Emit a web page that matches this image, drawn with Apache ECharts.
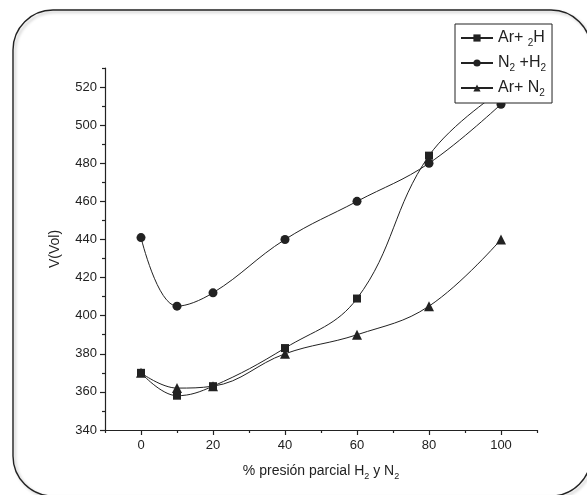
<!DOCTYPE html>
<html>
<head>
<meta charset="utf-8">
<script src="https://cdn.jsdelivr.net/npm/echarts@6/dist/echarts.min.js"></script>
<style>
html,body{margin:0;padding:0;background:#fff;}
#chart{width:587px;height:495px;}
</style>
</head>
<body>
<div id="chart"></div>
<script>
var xValues = [0, 10, 20, 40, 60, 80, 100];
var arH2 = [370, 358, 363, 383, 409, 484, 518];
var n2H2 = [441, 405, 412, 440, 460, 480, 511];
var arN2 = [370, 362, 363, 380, 390, 405, 440];
var seriesNames = ['Ar+ 2H', 'N2 +H2', 'Ar+ N2'];
var legendLabels = ['Ar+ {sub|2}H', 'N{sub|2} +H{sub|2}', 'Ar+ N{sub|2}'];
var xMajorTicks = [0, 20, 40, 60, 80, 100];
var xMinorTicks = [-10, 10, 30, 50, 70, 90, 110];
var yMajorTicks = [340, 360, 380, 400, 420, 440, 460, 480, 500, 520];
var yMinorTicks = [350, 370, 390, 410, 430, 450, 470, 490, 510, 530];

function pairs(vals) { return xValues.map(function (x, i) { return [x, vals[i]]; }); }

var FONT = '"Liberation Sans", Arial, sans-serif';
var INK = '#222';
var chart = echarts.init(document.getElementById('chart'), null, {renderer: 'canvas'});

var gridPos = {left: 105, right: 50, top: 68, bottom: 65};
var xBase = {type: 'value', min: -10, max: 110, gridIndex: 0};
var yBase = {type: 'value', min: 340, max: 530, gridIndex: 0};

function mkSeries(name, vals, symbol, size) {
  return {
    name: name, type: 'line', data: pairs(vals), smooth: 0.4,
    symbol: symbol, symbolSize: size,
    lineStyle: {color: INK, width: 1},
    itemStyle: {color: INK},
    xAxisIndex: 0, yAxisIndex: 0, z: 2
  };
}

var option = {
  backgroundColor: '#fff',
  animation: false,
  grid: gridPos,
  graphic: [{
    type: 'rect', z: -10,
    shape: {x: 13, y: 10, width: 578, height: 486, r: 40},
    style: {fill: 'none', stroke: INK, lineWidth: 1.4, shadowColor: 'rgba(0,0,0,0.25)', shadowBlur: 3, shadowOffsetX: 2, shadowOffsetY: 2}
  }],
  legend: {
    orient: 'vertical', left: 455, top: 24,
    data: seriesNames,
    itemWidth: 32, itemHeight: 9, itemGap: 7,
    padding: [6, 6, 5, 5],
    borderColor: INK, borderWidth: 1, backgroundColor: '#fff',
    z: 10,
    formatter: function (name) { return legendLabels[seriesNames.indexOf(name)]; },
    textStyle: {
      fontFamily: FONT, fontSize: 16, color: INK,
      rich: {sub: {fontFamily: FONT, fontSize: 10, color: INK, verticalAlign: 'bottom', padding: [10, 0, 0, 0]}}
    }
  },
  xAxis: [
    Object.assign({}, xBase, {
      position: 'bottom',
      name: '% presión parcial H{sub|2} y N{sub|2}',
      nameLocation: 'middle', nameGap: 32,
      nameTextStyle: {fontFamily: FONT, fontSize: 14, color: INK,
        rich: {sub: {fontFamily: FONT, fontSize: 9, color: INK, padding: [10, 0, 0, 0]}}},
      axisLine: {show: true, onZero: false, lineStyle: {color: INK, width: 1.2}},
      axisTick: {show: true, inside: false, length: 5, customValues: xMajorTicks, lineStyle: {color: INK, width: 1.2}},
      axisLabel: {customValues: xMajorTicks, margin: 9, fontFamily: FONT, fontSize: 13, color: INK},
      splitLine: {show: false}
    }),
    Object.assign({}, xBase, {
      position: 'bottom',
      axisLine: {show: false, onZero: false},
      axisTick: {show: true, inside: false, length: 3, customValues: xMinorTicks, lineStyle: {color: INK, width: 1.2}},
      axisLabel: {show: false},
      splitLine: {show: false}
    })
  ],
  yAxis: [
    Object.assign({}, yBase, {
      position: 'left',
      name: 'V(Vol)', nameLocation: 'middle', nameGap: 43, nameRotate: 90,
      nameTextStyle: {fontFamily: FONT, fontSize: 14, color: INK},
      axisLine: {show: true, onZero: false, lineStyle: {color: INK, width: 1.2}},
      axisTick: {show: true, inside: false, length: 5, customValues: yMajorTicks, lineStyle: {color: INK, width: 1.2}},
      axisLabel: {customValues: yMajorTicks, margin: 8, fontFamily: FONT, fontSize: 13, color: INK},
      splitLine: {show: false}
    }),
    Object.assign({}, yBase, {
      position: 'left',
      axisLine: {show: false, onZero: false},
      axisTick: {show: true, inside: false, length: 3, customValues: yMinorTicks, lineStyle: {color: INK, width: 1.2}},
      axisLabel: {show: false},
      splitLine: {show: false}
    })
  ],
  series: [
    mkSeries(seriesNames[0], arH2, 'rect', 8),
    mkSeries(seriesNames[1], n2H2, 'circle', 9),
    mkSeries(seriesNames[2], arN2, 'triangle', 10)
  ]
};
chart.setOption(option);
</script>
</body>
</html>
